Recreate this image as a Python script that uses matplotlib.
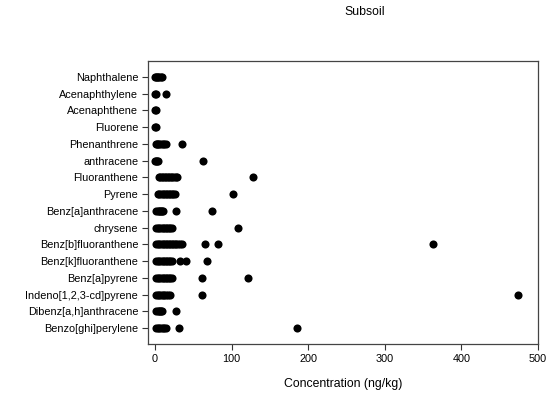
import numpy as np
import matplotlib.pyplot as plt

plt.rcParams['font.family'] = ['Liberation Sans', 'DejaVu Sans']

compounds = ['Naphthalene', 'Acenaphthylene', 'Acenaphthene', 'Fluorene',
             'Phenanthrene', 'anthracene', 'Fluoranthene', 'Pyrene',
             'Benz[a]anthracene', 'chrysene', 'Benz[b]fluoranthene',
             'Benz[k]fluoranthene', 'Benz[a]pyrene', 'Indeno[1,2,3-cd]pyrene',
             'Dibenz[a,h]anthracene', 'Benzo[ghi]perylene']

# concentrations (ng/kg) per compound
naphthalene = [0.5, 1.5, 3, 4.5, 6, 7.5, 9]
acenaphthylene = [0.5, 1, 14]
acenaphthene = [0.5, 1]
fluorene = [0.5, 1]
phenanthrene = [1, 2.5, 4, 6, 8, 10, 12, 14, 36]
anthracene = [0.5, 1.5, 2.5, 4, 63]
fluoranthene = [5, 7, 9, 11, 13, 15, 17, 19, 21, 23, 25, 27, 29, 128]
pyrene = [4, 6, 8, 10, 12, 14, 16, 18, 20, 22, 24, 26, 102]
benz_a_anthracene = [2, 3.5, 5, 6.5, 8, 9.5, 11, 27, 74]
chrysene = [2, 4, 6, 8, 10, 12, 14, 16, 18, 20, 22, 109]
benz_b_fluoranthene = [2, 4, 6, 8, 10, 12, 14, 16, 18, 20, 22, 24, 26, 28,
                       30, 33, 36, 65, 82, 363]
benz_k_fluoranthene = [2, 4, 6, 8, 10, 12, 14, 16, 18, 20, 22, 33, 41, 68]
benz_a_pyrene = [2, 4, 6, 8, 10, 12, 14, 16, 18, 20, 22, 61, 122]
indeno_pyrene = [2, 4, 6, 8, 10, 12, 14, 17, 20, 61, 474]
dibenz_anthracene = [2, 3.5, 5, 6.5, 8, 9.5, 28]
benzo_ghi_perylene = [2, 4, 6, 8, 10, 12, 14, 31, 185]

values = [naphthalene, acenaphthylene, acenaphthene, fluorene, phenanthrene,
          anthracene, fluoranthene, pyrene, benz_a_anthracene, chrysene,
          benz_b_fluoranthene, benz_k_fluoranthene, benz_a_pyrene,
          indeno_pyrene, dibenz_anthracene, benzo_ghi_perylene]

fig = plt.figure(figsize=(5.48, 3.98), dpi=100)
ax = fig.add_axes([0.270, 0.1357, 0.712, 0.711])

for i, vals in enumerate(values):
    ax.scatter(vals, np.full(len(vals), i), s=34, color='black', linewidths=0, zorder=3)

ax.set_xlim(-9, 500)
ax.set_ylim(15.95, -0.95)
ax.set_xticks([0, 100, 200, 300, 400, 500])
ax.set_yticks(range(len(compounds)))
ax.set_yticklabels(compounds)
ax.tick_params(axis='both', labelsize=7.8, length=4, width=0.8, color='#333333', pad=3)
for sp in ax.spines.values():
    sp.set_color('#444444')
    sp.set_linewidth(0.9)

ax.set_xlabel('Concentration (ng/kg)', fontsize=8.8, labelpad=10)
fig.text(365 / 548, 1 - 12 / 398, 'Subsoil', ha='center', va='center', fontsize=8.8)

fig.savefig('out.png', dpi=100)
